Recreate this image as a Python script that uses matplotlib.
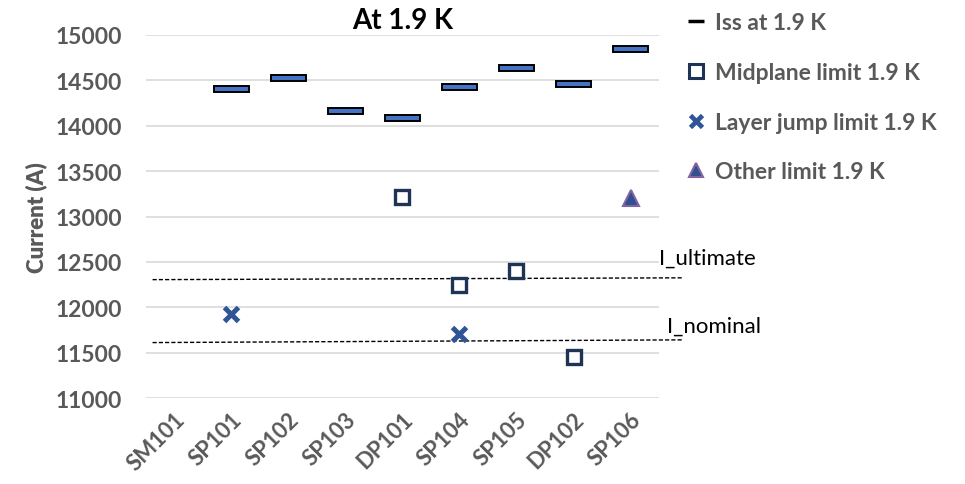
import matplotlib
matplotlib.use('Agg')
import matplotlib.pyplot as plt
import numpy as np
from matplotlib.lines import Line2D

plt.rcParams['font.family'] = ['Lato', 'DejaVu Sans']

magnets = ['SM101', 'SP101', 'SP102', 'SP103', 'DP101', 'SP104', 'SP105', 'DP102', 'SP106']
iss = [np.nan, 14405, 14520, 14160, 14080, 14425, 14640, 14460, 14840]
midplane = [np.nan, np.nan, np.nan, np.nan, 13215, 12245, 12400, 11455, np.nan]
layer_jump = [np.nan, 11925, np.nan, np.nan, np.nan, 11710, np.nan, np.nan, np.nan]
other = [np.nan, np.nan, np.nan, np.nan, np.nan, np.nan, np.nan, np.nan, 13205]

# hand-drawn reference lines (slightly tilted in the original)
ult_x = [-0.38, 8.92]
ult_y = [12305, 12325]
nom_x = [-0.38, 8.92]
nom_y = [11612, 11642]

gray = '#595959'

fig = plt.figure(figsize=(9.65, 4.85), dpi=100)
ax = fig.add_axes([0.151, 0.177, 0.532, 0.749])

x = np.arange(len(magnets))

# Iss as flat blue bars
iss_arr = np.array(iss)
ok = ~np.isnan(iss_arr)
ax.bar(x[ok], 66, bottom=iss_arr[ok] - 33, width=0.62, color='#4472C4',
       edgecolor='black', linewidth=1.4, zorder=3)

ax.plot(x, midplane, ls='none', marker='s', ms=10.5, mfc='white',
        mec='#1F3354', mew=2.4, zorder=4)
ax.plot(x, layer_jump, ls='none', marker='x', ms=9.5, mec='#2F5597',
        mew=3.6, zorder=4)
ax.plot(x, other, ls='none', marker='^', ms=11, mfc='#2F4F8F',
        mec='#8064A2', mew=1.5, zorder=4)

ax.plot(ult_x, ult_y, ls=(0, (3, 1.5)), color='black', lw=1, clip_on=False, zorder=2)
ax.plot(nom_x, nom_y, ls=(0, (3, 1.5)), color='black', lw=1, clip_on=False, zorder=2)
ax.text(8.5, 12550, 'I_ultimate', fontsize=16, color='black', va='center', clip_on=False)
ax.text(8.64, 11800, 'I_nominal', fontsize=16, color='black', va='center', clip_on=False)

ax.set_xlim(-0.5, 8.5)
ax.set_ylim(11000, 15000)
ax.set_yticks(np.arange(11000, 15001, 500))
ax.set_xticks(x)
ax.set_xticklabels(magnets, rotation=45, ha='right', rotation_mode='anchor',
                   fontsize=16, fontweight='bold', color=gray)
for lab in ax.get_yticklabels():
    lab.set_fontsize(16.5)
    lab.set_fontweight('bold')
    lab.set_color(gray)
ax.tick_params(length=0)
ax.tick_params(axis='y', pad=17)
ax.tick_params(axis='x', pad=7)
ax.grid(axis='y', color='#D9D9D9', lw=1.2)
ax.set_axisbelow(True)
for s in ax.spines.values():
    s.set_visible(False)

ax.set_ylabel('Current (A)', fontsize=16, fontweight='heavy', color=gray, labelpad=6)
ax.set_title('At 1.9 K', fontsize=20, fontweight='bold', color='black', pad=5)

handles = [
    Line2D([], [], ls='none', marker='_', ms=11, mec='black', mew=2.5),
    Line2D([], [], ls='none', marker='s', ms=9.5, mfc='white', mec='#1F3354', mew=2.2),
    Line2D([], [], ls='none', marker='x', ms=8.5, mec='#2F5597', mew=3.4),
    Line2D([], [], ls='none', marker='^', ms=10.5, mfc='#2F4F8F', mec='#8064A2', mew=1.5),
]
labels = ['Iss at 1.9 K', 'Midplane limit 1.9 K', 'Layer jump limit 1.9 K', 'Other limit 1.9 K']
leg = fig.legend(handles, labels, loc='upper left', bbox_to_anchor=(0.69, 1.015),
                 frameon=False, handlelength=0.8, handletextpad=0.45,
                 labelspacing=1.25, prop={'size': 16.5, 'weight': 'bold'})
for t in leg.get_texts():
    t.set_color(gray)

fig.savefig('out.png', dpi=100)
